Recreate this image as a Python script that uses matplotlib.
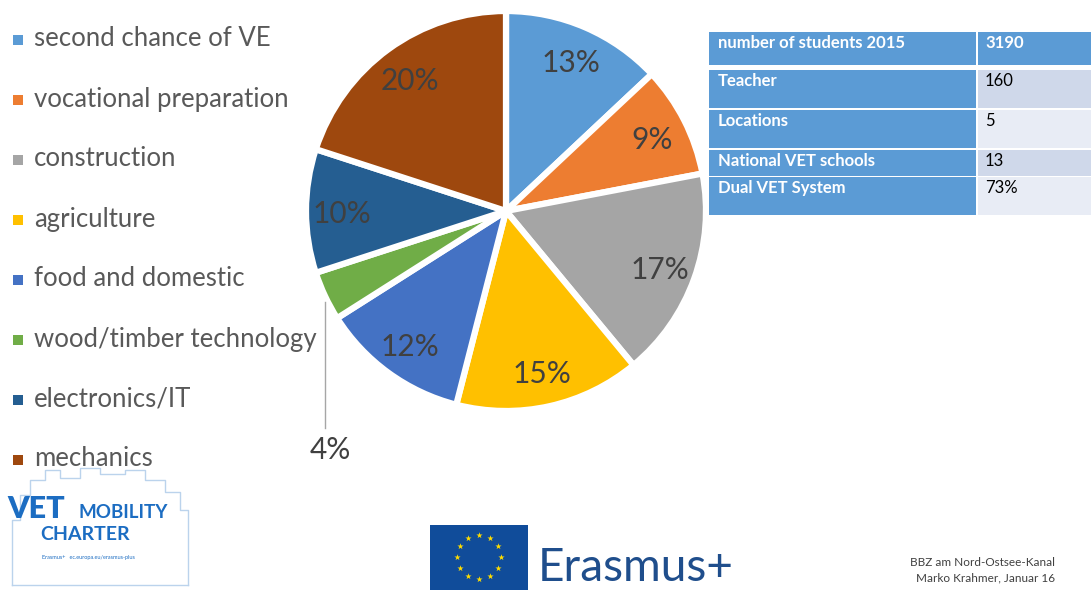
import numpy as np
import matplotlib

matplotlib.use("Agg")
import matplotlib.pyplot as plt
from matplotlib.patches import Rectangle

plt.rcParams["font.family"] = ["Lato", "DejaVu Sans"]

# pie data
categories = ["second chance of VE", "vocational preparation", "construction",
              "agriculture", "food and domestic", "wood/timber technology",
              "electronics/IT", "mechanics"]
shares = [13, 9, 17, 15, 12, 4, 10, 20]
colors = ["#5B9BD5", "#ED7D31", "#A5A5A5", "#FFC000",
          "#4472C4", "#70AD47", "#255E91", "#9E480E"]

# side table
table_keys = ["number of students 2015", "Teacher", "Locations",
              "National VET schools", "Dual VET System"]
table_vals = ["3190", "160", "5", "13", "73%"]

W, H = 1091, 590
fig = plt.figure(figsize=(W / 100, H / 100), dpi=100)
ax = fig.add_axes([0, 0, 1, 1])


def Y(py):
    # pixel row (from top) -> data y
    return H - py


wedges, texts, autotexts = ax.pie(
    shares, colors=colors, startangle=90, counterclock=False,
    center=(506, Y(211)), radius=200, pctdistance=0.82,
    autopct=lambda p: "" if p < 5 else f"{p:.0f}%",
    wedgeprops=dict(edgecolor="white", linewidth=4.5),
    textprops=dict(fontsize=21.5, color="#404040"),
)
for t in autotexts:
    x, y = t.get_position()
    t.set_position((x, y - 3))

# small slice gets a leader line + outside label
small = shares.index(min(shares))
w = wedges[small]
mid = np.deg2rad((w.theta1 + w.theta2) / 2)
ex = w.center[0] + w.r * np.cos(mid)
ey = w.center[1] + w.r * np.sin(mid)
ax.plot([ex, ex], [ey - 6, Y(428)], color="#A6A6A6", lw=1)
ax.text(ex + 5, Y(450), f"{shares[small]}%", fontsize=21.5, color="#404040",
        ha="center", va="center")

# legend on the left
for i, (cat, col) in enumerate(zip(categories, colors)):
    yy = Y(40 + i * 60.0)
    ax.add_patch(Rectangle((13, yy - 5), 10, 10, color=col, lw=0))
    ax.text(34, yy + 1, cat, fontsize=18.5, color="#595959", va="center")

# table
rows = [(32, 65), (70, 108), (110, 148), (150, 176), (177, 215)]
body_fill = ["#CFD8EA", "#E8ECF5"]
for i, ((t, b), k, v) in enumerate(zip(rows, table_keys, table_vals)):
    ax.add_patch(Rectangle((709, Y(b)), 267, b - t, color="#5B9BD5", lw=0))
    fill = "#5B9BD5" if i == 0 else body_fill[(i - 1) % 2]
    ax.add_patch(Rectangle((978, Y(b)), W - 978, b - t, color=fill, lw=0))
    ty = Y(t + 11)
    ax.text(718, ty, k, fontsize=12, fontweight="bold", color="white", va="center")
    ax.text(985, ty, v, fontsize=12, fontweight="bold" if i == 0 else "normal",
            color="white" if i == 0 else "black", va="center")

# VET mobility charter logo (simplified skyline outline)
logo_blue = "#1C6DC2"
sky_x = [12, 12, 20, 20, 30, 30, 45, 45, 60, 60, 80, 80, 100, 100, 125, 125, 145,
         145, 165, 165, 180, 180, 188, 188]
sky_y = [585, 520, 520, 495, 495, 480, 480, 470, 470, 478, 478, 468, 468, 474, 474,
         470, 470, 480, 480, 492, 492, 510, 510, 585]
ax.plot(sky_x, [Y(v) for v in sky_y], color="#BBD3EC", lw=1)
ax.plot([12, 188], [Y(585), Y(585)], color="#BBD3EC", lw=1)
ax.text(7, Y(509), "VET", fontsize=22, fontweight="heavy", color=logo_blue, va="center")
ax.text(79, Y(512), "MOBILITY", fontsize=13.5, fontweight="bold", color=logo_blue,
        va="center")
ax.text(40, Y(535), "CHARTER", fontsize=14, fontweight="bold", color=logo_blue,
        va="center")
ax.text(42, Y(557), "Erasmus+   ec.europa.eu/erasmus-plus", fontsize=4, color=logo_blue,
        va="center")

# EU flag + Erasmus+
ax.add_patch(Rectangle((430, 0), 98, Y(525), color="#104C9A", lw=0))
ang = np.linspace(0, 2 * np.pi, 12, endpoint=False)
ax.scatter(479 + 22 * np.cos(ang), Y(557) + 22 * np.sin(ang), marker="*", s=22,
           color="#FFDD00", zorder=5, lw=0)
ax.text(538, Y(589), "Erasmus+", fontsize=33, color="#1F4E8C", va="bottom")

# footer
ax.text(1055, Y(563), "BBZ am Nord-Ostsee-Kanal", fontsize=8.5, color="#404040",
        ha="right", va="center")
ax.text(1055, Y(578), "Marko Krahmer, Januar 16", fontsize=8.5, color="#404040",
        ha="right", va="center")

ax.set_xlim(0, W)
ax.set_ylim(0, H)
ax.axis("off")
fig.savefig("out.png", dpi=100)
